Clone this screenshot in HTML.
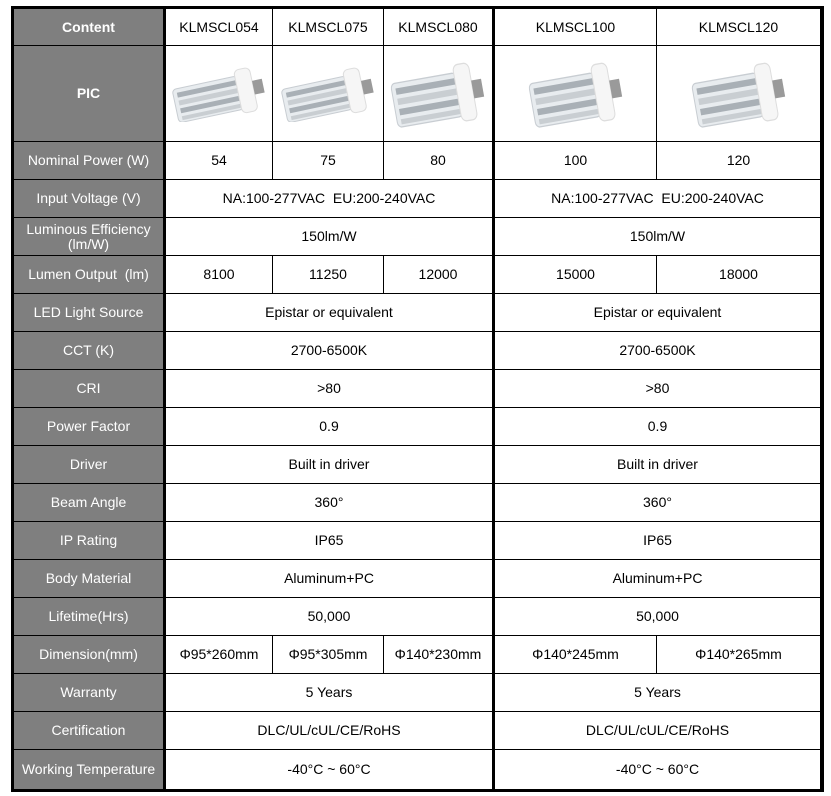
<!DOCTYPE html>
<html><head><meta charset="utf-8"><style>
body{margin:0;width:831px;height:796px;background:#fff;position:relative;overflow:hidden;font-family:"Liberation Sans",sans-serif;font-size:14px;color:#000}
.bg{position:absolute;left:11px;top:6px;width:813px;height:786px;background:#000}
.c{position:absolute;display:flex;align-items:center;justify-content:center;background:#fff;text-align:center;line-height:15px}
.g{background:#7f7f7f;color:#fff}
.b{font-weight:bold}
svg{display:block}
</style></head><body>
<div class="bg"></div>
<svg width="0" height="0" style="position:absolute"><defs>
<g id="bulb">
<rect x="0" y="10" width="66" height="34" rx="4" fill="#e8ecef" stroke="#c8cdd2"/>
<rect x="4" y="14" width="60" height="5" fill="#a9b0b6"/>
<rect x="4" y="22" width="60" height="5" fill="#c9ced2"/>
<rect x="4" y="30" width="60" height="5" fill="#a9b0b6"/>
<rect x="4" y="38" width="60" height="4" fill="#c9ced2"/>
<rect x="64" y="4" width="16" height="44" rx="5" fill="#f6f6f6" stroke="#ddd"/>
<rect x="80" y="18" width="10" height="14" fill="#9a9a9a"/>
</g></defs></svg>
<div class="c g b" style="left:14px;top:9px;width:149px;height:36px">Content</div>
<div class="c" style="left:166px;top:9px;width:106px;height:36px">KLMSCL054</div>
<div class="c" style="left:273px;top:9px;width:110px;height:36px">KLMSCL075</div>
<div class="c" style="left:384px;top:9px;width:108px;height:36px">KLMSCL080</div>
<div class="c" style="left:495px;top:9px;width:161px;height:36px">KLMSCL100</div>
<div class="c" style="left:657px;top:9px;width:163px;height:36px">KLMSCL120</div>

<div class="c g b" style="left:14px;top:46px;width:149px;height:95px">PIC</div>
<div class="c" style="left:166px;top:46px;width:106px;height:95px"><svg width="96" height="56"><use href="#bulb" transform="rotate(-12 48 28) translate(3 4)"/></svg></div>
<div class="c" style="left:273px;top:46px;width:110px;height:95px"><svg width="96" height="56"><use href="#bulb" transform="rotate(-12 48 28) translate(3 4)"/></svg></div>
<div class="c" style="left:384px;top:46px;width:108px;height:95px"><svg width="96" height="70"><use href="#bulb" transform="rotate(-10 48 35) translate(3 4) scale(1,1.3)"/></svg></div>
<div class="c" style="left:495px;top:46px;width:161px;height:95px"><svg width="100" height="70"><use href="#bulb" transform="rotate(-10 50 35) translate(5 4) scale(1,1.3)"/></svg></div>
<div class="c" style="left:657px;top:46px;width:163px;height:95px"><svg width="100" height="70"><use href="#bulb" transform="rotate(-10 50 35) translate(5 4) scale(1,1.3)"/></svg></div>

<div class="c g" style="left:14px;top:142px;width:149px;height:37px">Nominal Power (W)</div>
<div class="c" style="left:166px;top:142px;width:106px;height:37px">54</div>
<div class="c" style="left:273px;top:142px;width:110px;height:37px">75</div>
<div class="c" style="left:384px;top:142px;width:108px;height:37px">80</div>
<div class="c" style="left:495px;top:142px;width:161px;height:37px">100</div>
<div class="c" style="left:657px;top:142px;width:163px;height:37px">120</div>

<div class="c g" style="left:14px;top:180px;width:149px;height:37px">Input Voltage (V)</div>
<div class="c" style="left:166px;top:180px;width:326px;height:37px">NA:100-277VAC&nbsp;&nbsp;EU:200-240VAC</div>
<div class="c" style="left:495px;top:180px;width:325px;height:37px">NA:100-277VAC&nbsp;&nbsp;EU:200-240VAC</div>

<div class="c g" style="left:14px;top:218px;width:149px;height:37px">Luminous Efficiency<br>(lm/W)</div>
<div class="c" style="left:166px;top:218px;width:326px;height:37px">150lm/W</div>
<div class="c" style="left:495px;top:218px;width:325px;height:37px">150lm/W</div>

<div class="c g" style="left:14px;top:256px;width:149px;height:37px">Lumen Output&nbsp;&nbsp;(lm)</div>
<div class="c" style="left:166px;top:256px;width:106px;height:37px">8100</div>
<div class="c" style="left:273px;top:256px;width:110px;height:37px">11250</div>
<div class="c" style="left:384px;top:256px;width:108px;height:37px">12000</div>
<div class="c" style="left:495px;top:256px;width:161px;height:37px">15000</div>
<div class="c" style="left:657px;top:256px;width:163px;height:37px">18000</div>

<div class="c g" style="left:14px;top:294px;width:149px;height:37px">LED Light Source</div>
<div class="c" style="left:166px;top:294px;width:326px;height:37px">Epistar or equivalent</div>
<div class="c" style="left:495px;top:294px;width:325px;height:37px">Epistar or equivalent</div>

<div class="c g" style="left:14px;top:332px;width:149px;height:37px">CCT (K)</div>
<div class="c" style="left:166px;top:332px;width:326px;height:37px">2700-6500K</div>
<div class="c" style="left:495px;top:332px;width:325px;height:37px">2700-6500K</div>

<div class="c g" style="left:14px;top:370px;width:149px;height:37px">CRI</div>
<div class="c" style="left:166px;top:370px;width:326px;height:37px">&gt;80</div>
<div class="c" style="left:495px;top:370px;width:325px;height:37px">&gt;80</div>

<div class="c g" style="left:14px;top:408px;width:149px;height:37px">Power Factor</div>
<div class="c" style="left:166px;top:408px;width:326px;height:37px">0.9</div>
<div class="c" style="left:495px;top:408px;width:325px;height:37px">0.9</div>

<div class="c g" style="left:14px;top:446px;width:149px;height:37px">Driver</div>
<div class="c" style="left:166px;top:446px;width:326px;height:37px">Built in driver</div>
<div class="c" style="left:495px;top:446px;width:325px;height:37px">Built in driver</div>

<div class="c g" style="left:14px;top:484px;width:149px;height:37px">Beam Angle</div>
<div class="c" style="left:166px;top:484px;width:326px;height:37px">360°</div>
<div class="c" style="left:495px;top:484px;width:325px;height:37px">360°</div>

<div class="c g" style="left:14px;top:522px;width:149px;height:37px">IP Rating</div>
<div class="c" style="left:166px;top:522px;width:326px;height:37px">IP65</div>
<div class="c" style="left:495px;top:522px;width:325px;height:37px">IP65</div>

<div class="c g" style="left:14px;top:560px;width:149px;height:37px">Body Material</div>
<div class="c" style="left:166px;top:560px;width:326px;height:37px">Aluminum+PC</div>
<div class="c" style="left:495px;top:560px;width:325px;height:37px">Aluminum+PC</div>

<div class="c g" style="left:14px;top:598px;width:149px;height:37px">Lifetime(Hrs)</div>
<div class="c" style="left:166px;top:598px;width:326px;height:37px">50,000</div>
<div class="c" style="left:495px;top:598px;width:325px;height:37px">50,000</div>

<div class="c g" style="left:14px;top:636px;width:149px;height:37px">Dimension(mm)</div>
<div class="c" style="left:166px;top:636px;width:106px;height:37px">Φ95*260mm</div>
<div class="c" style="left:273px;top:636px;width:110px;height:37px">Φ95*305mm</div>
<div class="c" style="left:384px;top:636px;width:108px;height:37px">Φ140*230mm</div>
<div class="c" style="left:495px;top:636px;width:161px;height:37px">Φ140*245mm</div>
<div class="c" style="left:657px;top:636px;width:163px;height:37px">Φ140*265mm</div>

<div class="c g" style="left:14px;top:674px;width:149px;height:37px">Warranty</div>
<div class="c" style="left:166px;top:674px;width:326px;height:37px">5 Years</div>
<div class="c" style="left:495px;top:674px;width:325px;height:37px">5 Years</div>

<div class="c g" style="left:14px;top:712px;width:149px;height:37px">Certification</div>
<div class="c" style="left:166px;top:712px;width:326px;height:37px">DLC/UL/cUL/CE/RoHS</div>
<div class="c" style="left:495px;top:712px;width:325px;height:37px">DLC/UL/cUL/CE/RoHS</div>

<div class="c g" style="left:14px;top:750px;width:149px;height:39px">Working Temperature</div>
<div class="c" style="left:166px;top:750px;width:326px;height:39px">-40°C ~ 60°C</div>
<div class="c" style="left:495px;top:750px;width:325px;height:39px">-40°C ~ 60°C</div>
</body></html>
